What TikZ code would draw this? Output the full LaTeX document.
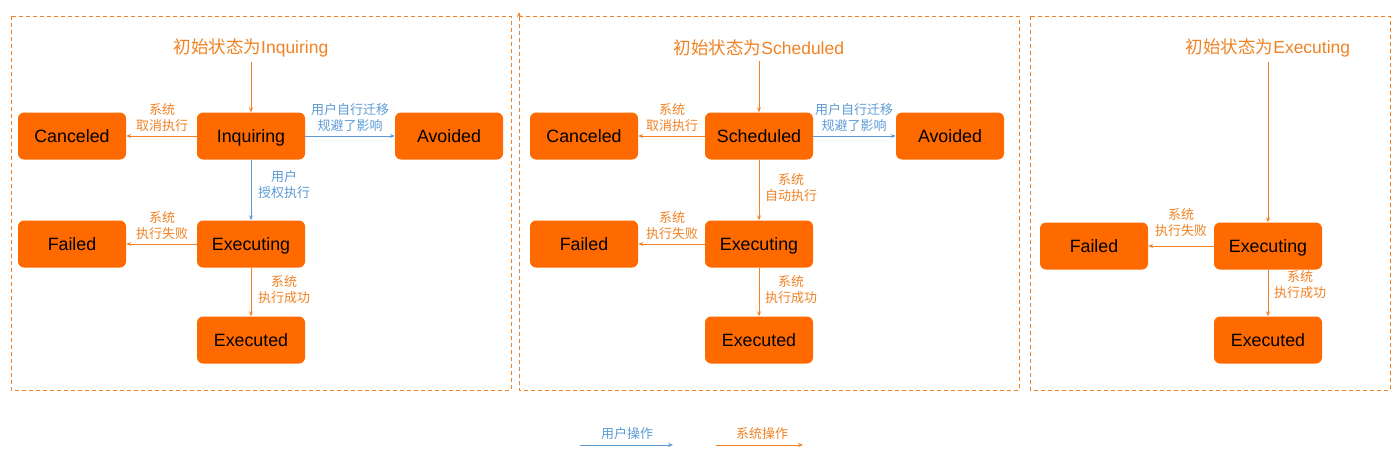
\documentclass[tikz,border=0pt]{standalone}
\usepackage{fontspec}
\setmainfont{Liberation Sans}
\newfontfamily\cjk{Noto Sans CJK SC}
\usetikzlibrary{arrows.meta}
\definecolor{org}{HTML}{FF6A00}
\definecolor{orgl}{HTML}{F08224}
\definecolor{usr}{HTML}{5B9BD5}
\begin{document}
\begin{tikzpicture}[x=1pt,y=-1pt,
 state/.style={fill=org, rounded corners=6pt, minimum width=108pt, minimum height=47pt, font=\fontsize{17.8}{18}\selectfont, text=black, inner sep=0pt, text height=12.7pt, text depth=0pt},
 title/.style={text=orgl, font=\fontsize{17.5}{18}\selectfont, inner sep=0pt},
 lbl/.style={font=\cjk\fontsize{13}{16}\selectfont, align=center, inner sep=0pt},
 syslbl/.style={lbl, text=orgl},
 usrlbl/.style={lbl, text=usr},
 sys/.style={draw=orgl, line width=0.8pt, -{Stealth[length=5pt,width=4pt]}},
 user/.style={draw=usr, line width=0.8pt, -{Stealth[length=5pt,width=4pt]}},
 frame/.style={draw=orgl, dash pattern=on 4pt off 3pt, line width=0.8pt}
]
\useasboundingbox (0,0) rectangle (1400,463);
% frames
\draw[frame] (11,16) rectangle (511,390);
\draw[frame, -{Stealth[length=5pt,width=4pt]}] (519,16) -- (1019,16) -- (1019,390) -- (519,390) -- (519,12);
\draw[frame] (1030,16) rectangle (1390,390);

% ---- panel 1
\node[title] (t1) at (251,48) {{\cjk 初始状态为}Inquiring};
\node[state] (c1) at (72,136) {Canceled};
\node[state] (i1) at (251,136) {Inquiring};
\node[state] (a1) at (449,136) {Avoided};
\node[state] (f1) at (72,244) {Failed};
\node[state] (e1) at (251,244) {Executing};
\node[state] (d1) at (251,340) {Executed};
\draw[sys, shorten <=5pt] (t1) -- (i1);
\draw[sys] (i1) -- (c1);
\draw[user] (i1) -- (a1);
\draw[user] (i1) -- (e1);
\draw[sys] (e1) -- (f1);
\draw[sys] (e1) -- (d1);
\node[syslbl] (l11) at (162,118) {系统\\取消执行};
\node[usrlbl] (l12) at (350,118) {用户自行迁移\\规避了影响};
\node[usrlbl] (l13) at (284,185) {用户\\授权执行};
\node[syslbl] (l14) at (162,226) {系统\\执行失败};
\node[syslbl] (l15) at (284,290) {系统\\执行成功};

% ---- panel 2
\node[title] (t2) at (759,48) {{\cjk 初始状态为}Scheduled};
\node[state] (c2) at (584,136) {Canceled};
\node[state] (s2) at (759,136) {Scheduled};
\node[state] (a2) at (950,136) {Avoided};
\node[state] (f2) at (584,244) {Failed};
\node[state] (e2) at (759,244) {Executing};
\node[state] (d2) at (759,340) {Executed};
\draw[sys, shorten <=5pt] (t2) -- (s2);
\draw[sys] (s2) -- (c2);
\draw[user] (s2) -- (a2);
\draw[sys] (s2) -- (e2);
\draw[sys] (e2) -- (f2);
\draw[sys] (e2) -- (d2);
\node[syslbl] (l21) at (672,118) {系统\\取消执行};
\node[usrlbl] (l22) at (854,118) {用户自行迁移\\规避了影响};
\node[syslbl] (l23) at (791,188) {系统\\自动执行};
\node[syslbl] (l24) at (672,226) {系统\\执行失败};
\node[syslbl] (l25) at (791,290) {系统\\执行成功};

% ---- panel 3
\node[title] (t3) at (1268,48) {{\cjk 初始状态为}Executing};
\node[state] (f3) at (1094,246) {Failed};
\node[state] (e3) at (1268,246) {Executing};
\node[state] (d3) at (1268,340) {Executed};
\draw[sys, shorten <=5pt] (t3) -- (e3);
\draw[sys] (e3) -- (f3);
\draw[sys] (e3) -- (d3);
\node[syslbl] (l31) at (1181,223) {系统\\执行失败};
\node[syslbl] (l32) at (1300,285) {系统\\执行成功};

% ---- legend
\node[usrlbl] (lu) at (627,434) {用户操作};
\node[syslbl] (ls) at (762,434) {系统操作};
\coordinate (u1) at (580,445);
\coordinate (u2) at (673,445);
\coordinate (s1) at (716,445);
\coordinate (s2e) at (803,445);
\draw[user] (u1) -- (u2);
\draw[sys] (s1) -- (s2e);
\end{tikzpicture}
\end{document}
